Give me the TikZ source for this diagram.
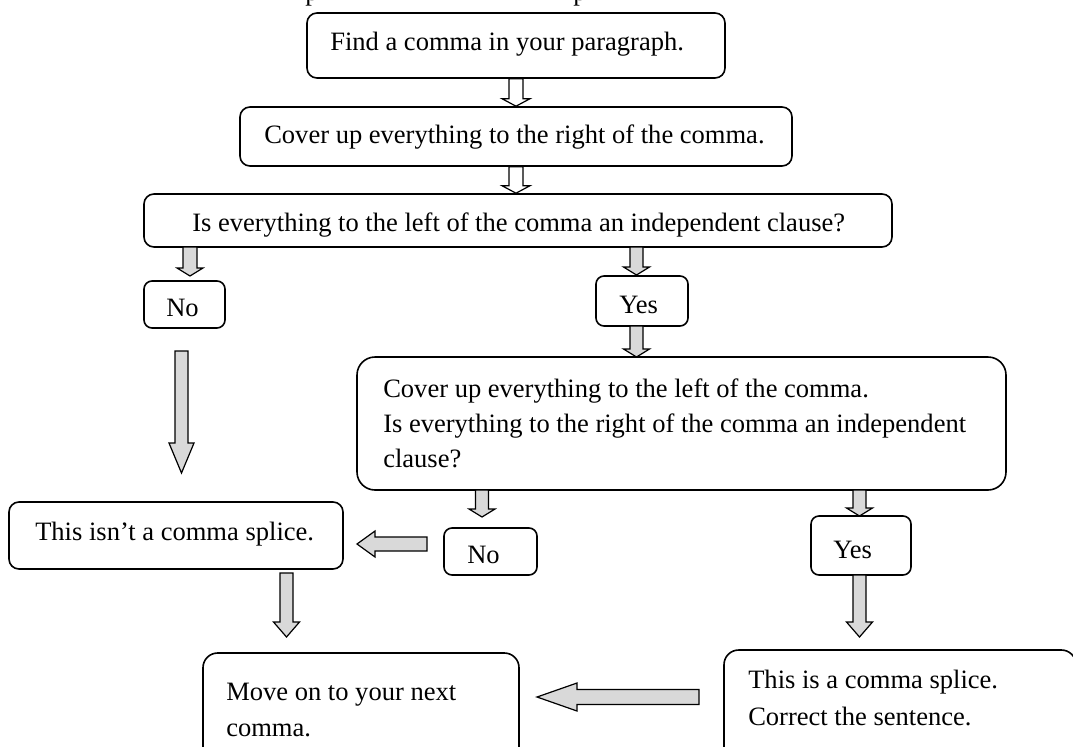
\documentclass[tikz,border=0pt]{standalone}
\usepackage{fontspec}
\setmainfont{Liberation Serif}
\usetikzlibrary{fit,calc}
\tikzset{
  box/.style={draw, line width=1.2pt, inner sep=0pt, rounded corners=#1},
  box/.default=7.5pt,
  txt/.style={inner sep=0pt, anchor=base west, font=\fontsize{19.9}{24}\selectfont},
  openarr/.style={draw, fill=white, line width=0.9pt},
  grayarr/.style={draw, fill=black!15, line width=0.9pt},
}
% down block arrow: style, start, tip, half shaft, half head, head length (px)
\newcommand\dnarrow[6]{%
  \path[#1] let \p1=(#2), \p2=(#3) in
  (\x1-#4*0.75pt,\y1) -- (\x1-#4*0.75pt,\y2+#6*0.75pt) -- (\x1-#5*0.75pt,\y2+#6*0.75pt) --
  (\x1,\y2) -- (\x1+#5*0.75pt,\y2+#6*0.75pt) -- (\x1+#4*0.75pt,\y2+#6*0.75pt) --
  (\x1+#4*0.75pt,\y1) -- cycle;}
% left block arrow: style, start, tip, half shaft, half head, head length (px)
\newcommand\ltarrow[6]{%
  \path[#1] let \p1=(#2), \p2=(#3) in
  (\x1,\y1-#4*0.75pt) -- (\x2+#6*0.75pt,\y1-#4*0.75pt) -- (\x2+#6*0.75pt,\y1-#5*0.75pt) --
  (\x2,\y1) -- (\x2+#6*0.75pt,\y1+#5*0.75pt) -- (\x2+#6*0.75pt,\y1+#4*0.75pt) --
  (\x1,\y1+#4*0.75pt) -- cycle;}
\begin{document}
\begin{tikzpicture}[x=0.75pt, y=-0.75pt]
\useasboundingbox (0,0) rectangle (1073,746);
\fill[white] (0,0) rectangle (1073,746);
\clip (0,0) rectangle (1073,746);

% fragments of the cut-off title line
\node[txt] (ttl1) at (305,1) {p};
\node[txt] (ttl2) at (573,1) {p};

% boxes
\node[box, fit={(307,13) (725,78)}] (b1) {};
\node[box, fit={(240,107) (792,166)}] (b2) {};
\node[box, fit={(144,194) (892,247)}] (b3) {};
\node[box=6pt, fit={(144,281) (225,328)}] (no1) {};
\node[box=6pt, fit={(596,276) (688,326)}] (yes1) {};
\node[box=13.5pt, fit={(357,357) (1006,490)}] (big) {};
\node[box, fit={(9,502) (343,569)}] (isnt) {};
\node[box=6pt, fit={(444,528) (537,575)}] (no2) {};
\node[box=6pt, fit={(811,516) (911,575)}] (yes2) {};
\node[box=11pt, fit={(203,653) (519,770)}] (move) {};
\node[box=11pt, fit={(724,650) (1076,770)}] (splice) {};

% texts
\node[txt] (t1) at (330,50) {Find a comma in your paragraph.};
\node[txt] (t2) at (264,143) {Cover up everything to the right of the comma.};
\node[txt] (t3) at (192,231) {Is everything to the left of the comma an independent clause?};
\node[txt] (tno1) at (166,316) {No};
\node[txt] (tyes1) at (619,313) {Yes};
\node[txt] (tbig1) at (383,397) {Cover up everything to the left of the comma.};
\node[txt] (tbig2) at (383,432) {Is everything to the right of the comma an independent};
\node[txt] (tbig3) at (383,467) {clause?};
\node[txt] (tisnt) at (35,540) {This isn’t a comma splice.};
\node[txt] (tno2) at (467,563) {No};
\node[txt] (tyes2) at (833,558) {Yes};
\node[txt] (tmove1) at (226,700) {Move on to your next};
\node[txt] (tmove2) at (226,736) {comma.};
\node[txt] (tspl1) at (748,688) {This is a comma splice.};
\node[txt] (tspl2) at (748,725) {Correct the sentence.};

% arrow end points
\coordinate (a3s) at (190,247);   \coordinate (a3e) at (190,276);
\coordinate (a4s) at (636.5,247); \coordinate (a4e) at (636.5,275);
\coordinate (a5s) at (636.5,326); \coordinate (a5e) at (636.5,357);
\coordinate (a6s) at (181.5,351); \coordinate (a6e) at (181.5,473);
\coordinate (a7s) at (482,490);   \coordinate (a7e) at (482,517);
\coordinate (a8s) at (859.5,490); \coordinate (a8e) at (859.5,516);
\coordinate (a9s) at (427,544);   \coordinate (a9e) at (357,544);
\coordinate (a10s) at (286.5,573); \coordinate (a10e) at (286.5,637);
\coordinate (a11s) at (859.5,575); \coordinate (a11e) at (859.5,637);
\coordinate (a12s) at (699,697);  \coordinate (a12e) at (537,697);

% arrows
\dnarrow{openarr}{b1.south}{b2.north}{7}{14}{7.5}
\dnarrow{openarr}{b2.south}{b2.south |- b3.north}{7}{14}{7.5}
\dnarrow{grayarr}{a3s}{a3e}{7}{13}{8}
\dnarrow{grayarr}{a4s}{a4e}{6.5}{13}{8}
\dnarrow{grayarr}{a5s}{a5e}{6.5}{13}{8}
\dnarrow{grayarr}{a6s}{a6e}{6.5}{12.5}{30}
\dnarrow{grayarr}{a7s}{a7e}{6.5}{13}{8}
\dnarrow{grayarr}{a8s}{a8e}{6.5}{13}{8}
\ltarrow{grayarr}{a9s}{a9e}{7}{13}{18}
\dnarrow{grayarr}{a10s}{a10e}{6.5}{13}{15}
\dnarrow{grayarr}{a11s}{a11e}{6.5}{13}{15}
\ltarrow{grayarr}{a12s}{a12e}{7.5}{14}{40}
\end{tikzpicture}
\end{document}
